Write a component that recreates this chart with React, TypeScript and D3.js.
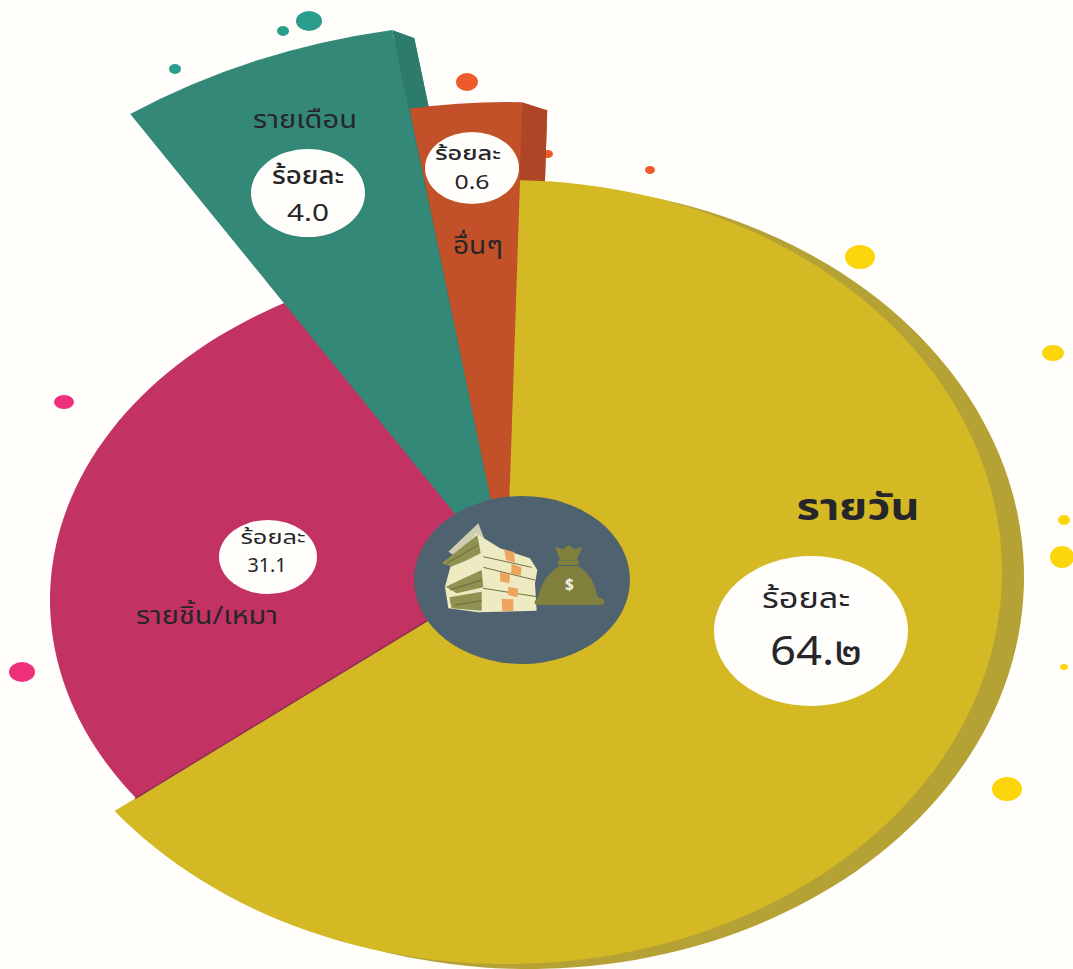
import React from "react";
import * as d3 from "d3";

// Labels and the percentages printed in the picture
const categories = ["รายวัน", "รายชิ้น/เหมา", "รายเดือน", "อื่นๆ"];
const printedValues = ["64.๒", "31.1", "4.0", "0.6"];
const percentWord = "ร้อยละ";
// The infographic's wedges are not drawn to the printed values: these are the shares as drawn (per cent of the circle)
const drawnShares = [64.15, 26.15, 6.6, 3.1];
const fills = ["#d4b924", "#c23364", "#338878", "#c25028"];
const sideFills = ["#b5a235", "#c23364", "#2c7b6c", "#ad4526"];
const dotFill = { teal: "#2a9d8c", orange: "#ee5a2a", yellow: "#fcd50c", pink: "#ee2f7a" };

const TAU = Math.PI * 2;
const START = (1.5 / 360) * TAU;
const pie = d3.pie<number>().sort(null).startAngle(START).endAngle(START + TAU);
const arcs = pie(drawnShares);
const arcGen = d3.arc<any>().innerRadius(0).outerRadius(100);

// slice ellipse geometry, index as categories
const geom = [
  { cx: 507, cy: 572, rx: 495, ry: 392, side: [22, 5], padStart: 0, padEnd: 0 },
  { cx: 515, cy: 600, rx: 465, ry: 342, side: null, padStart: 0.03, padEnd: 0.25 },
  { cx: 507, cy: 578, rx: 684, ry: 556, side: [22, 8], padStart: 0, padEnd: 0 },
  { cx: 507, cy: 578, rx: 581, ry: 476, side: [25, 8], padStart: 0, padEnd: 0 },
];
const drawOrder = [1, 2, 3, 0];

type T = [number, number, number, number]; // x, y, font size, drawn width
const bubbles: { cx: number; cy: number; rx: number; ry: number; head: T; num: T; label: T; headW: number; labelW: number }[] = [
  { cx: 811, cy: 631, rx: 97, ry: 75, head: [806, 600, 28, 88], num: [816, 654, 40, 92], label: [858, 509, 38, 123], headW: 400, labelW: 700 },
  { cx: 268, cy: 557, rx: 49, ry: 37, head: [273, 538, 20, 65], num: [267, 567, 19, 39], label: [207, 617, 25, 142], headW: 400, labelW: 400 },
  { cx: 308, cy: 193, rx: 57, ry: 44, head: [308, 177, 24, 72], num: [308, 214, 24, 42], label: [305, 121, 25, 104], headW: 500, labelW: 400 },
  { cx: 472, cy: 168, rx: 47, ry: 36, head: [468, 154, 20, 66], num: [472, 184, 19, 35], label: [478, 247, 24, 50], headW: 500, labelW: 400 },
];

const dots: [number, number, number, number, string][] = [
  [309, 21, 13, 10, dotFill.teal], [283, 31, 6, 5, dotFill.teal], [175, 69, 6, 5, dotFill.teal],
  [467, 82, 11, 9, dotFill.orange], [548, 154, 5, 4, dotFill.orange], [650, 170, 5, 4, dotFill.orange],
  [860, 257, 15, 12, dotFill.yellow], [1053, 353, 11, 8, dotFill.yellow], [1064, 520, 6, 5, dotFill.yellow],
  [1062, 557, 12, 11, dotFill.yellow], [1064, 667, 4, 3, dotFill.yellow], [1007, 789, 15, 12, dotFill.yellow],
  [64, 402, 10, 7, dotFill.pink], [22, 672, 13, 10, dotFill.pink],
];

const FONT = "'Noto Sans Thai', 'Noto Sans', 'DejaVu Sans', sans-serif";

function Icon() {
  const cream = "#eeeac2", green = "#8f9251", greenDark = "#74773f", band = "#efa45e", bag = "#80803c";
  return (
    <g transform="translate(400,480) scale(0.3333)">
      <path d="M145,215 L235,130 L252,175 L165,228 Z" fill="#cfcdb0" />
      <path d="M228,160 L300,205 L390,235 L412,270 L405,310 L410,392 L235,397 L145,385 L135,320 L150,265 Z" fill={cream} />
      <path d="M125,250 L232,165 L242,220 L160,262 Z" fill={green} />
      <path d="M150,262 L240,225 L245,262 L165,292 Z" fill={cream} />
      <path d="M137,320 L245,270 L250,322 L170,340 Z" fill={green} />
      <path d="M148,352 L245,335 L245,392 L155,385 Z" fill={green} />
      <path d="M165,375 L245,362 M150,330 L245,300 M140,250 L235,195" stroke={greenDark} strokeWidth="4" fill="none" />
      <path d="M250,230 L395,262 M250,262 L405,300 M250,325 L410,350" stroke="#6f7044" strokeWidth="3" fill="none" />
      <path d="M312,208 L342,216 L345,248 L318,240 Z" fill={band} />
      <path d="M335,252 L365,262 L362,288 L333,280 Z" fill={band} />
      <path d="M300,276 L330,284 L328,310 L300,304 Z" fill={band} />
      <path d="M325,320 L355,326 L352,352 L325,346 Z" fill={band} />
      <path d="M305,356 L340,358 L340,393 L307,393 Z" fill={band} />
      <path d="M465,200 L490,208 L505,195 L525,208 L547,200 L530,240 L480,240 Z" fill={bag} />
      <rect x="474" y="241" width="62" height="14" fill={bag} />
      <path d="M478,258 C440,280 420,320 415,350 L405,362 Q398,375 420,375 L600,375 Q622,372 610,358 L592,350 C585,310 570,280 535,258 Z" fill={bag} />
      <text x="508" y="330" textAnchor="middle" fontFamily={FONT} fontSize="46" fontWeight="700" fill="#f4f2e4">$</text>
    </g>
  );
}

function Label({ t, text, weight }: { t: T; text: string; weight: number }) {
  return (
    <text x={t[0]} y={t[1]} fontSize={t[2]} fontWeight={weight} textLength={t[3]} lengthAdjust="spacingAndGlyphs">
      {text}
    </text>
  );
}

// point on a slice's rim at a pie angle
const rim = (g: (typeof geom)[number], angle: number, f = 1): [number, number] => [
  g.cx + g.rx * f * Math.sin(angle),
  g.cy - g.ry * f * Math.cos(angle),
];

export default function App() {
  const y = geom[0];
  const yellowEnd = rim(y, arcs[0].endAngle, 0.948);
  return (
    <svg width={1073} height={969} style={{ position: "absolute", left: 0, top: 0 }}>
      <rect width={1073} height={969} fill="#fffefb" />
      {dots.map((d, i) => (
        <ellipse key={i} cx={d[0]} cy={d[1]} rx={d[2]} ry={d[3]} fill={d[4]} />
      ))}
      {drawOrder.map((i) => {
        const g = geom[i];
        const a = arcs[i];
        const path = arcGen({ startAngle: a.startAngle - g.padStart, endAngle: a.endAngle + g.padEnd }) as string;
        const corner = rim(g, a.endAngle);
        return (
          <g key={i}>
            {g.side && (
              <>
                <path
                  d={path}
                  fill={sideFills[i]}
                  transform={`translate(${g.cx + g.side[0]},${g.cy + g.side[1]}) scale(${g.rx / 100},${g.ry / 100})`}
                />
                {i !== 0 && (
                  <polygon
                    fill={sideFills[i]}
                    points={[
                      corner,
                      [corner[0] + g.side[0], corner[1] + g.side[1]],
                      [g.cx + g.side[0], g.cy + g.side[1]],
                      [g.cx, g.cy],
                    ].map((p) => p.join(",")).join(" ")}
                  />
                )}
              </>
            )}
            <path d={path} fill={fills[i]} transform={`translate(${g.cx},${g.cy}) scale(${g.rx / 100},${g.ry / 100})`} />
          </g>
        );
      })}
      <line x1={y.cx} y1={y.cy} x2={yellowEnd[0]} y2={yellowEnd[1]} stroke="#8f2f55" strokeWidth={1.5} />
      <ellipse cx={522} cy={580} rx={108} ry={84} fill="#4f6270" />
      <Icon />
      {bubbles.map((b, i) => (
        <g key={i} fontFamily={FONT} fill="#26262a" textAnchor="middle" dominantBaseline="middle">
          <ellipse cx={b.cx} cy={b.cy} rx={b.rx} ry={b.ry} fill="#fffefb" />
          <Label t={b.head} text={percentWord} weight={b.headW} />
          <Label t={b.num} text={printedValues[i]} weight={400} />
          <Label t={b.label} text={categories[i]} weight={b.labelW} />
        </g>
      ))}
    </svg>
  );
}
